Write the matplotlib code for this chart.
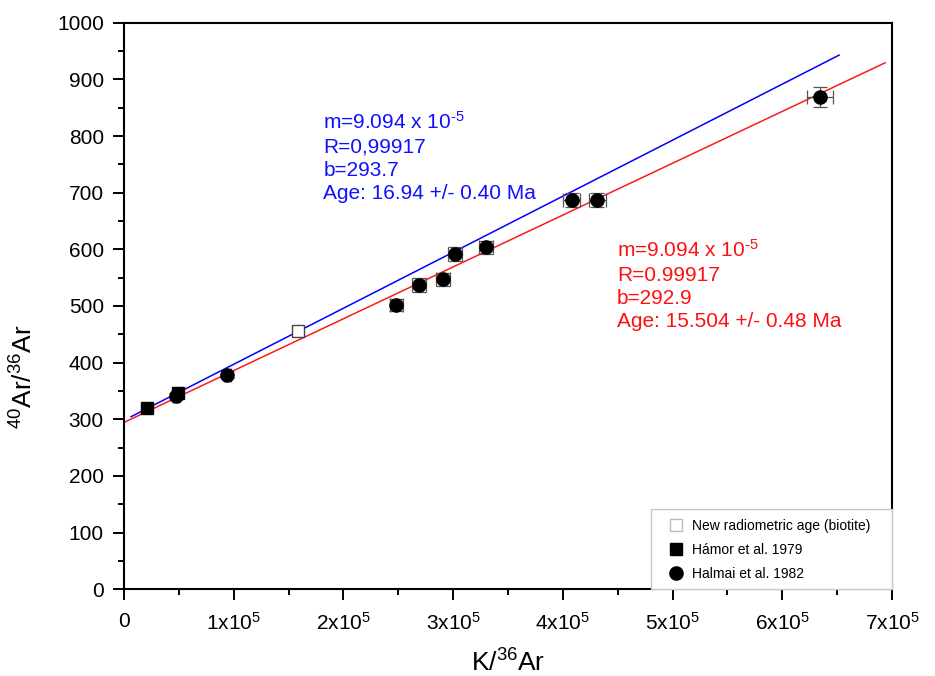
import matplotlib
matplotlib.use('Agg')
import matplotlib.pyplot as plt
from matplotlib.ticker import MultipleLocator, FixedLocator, FixedFormatter
from matplotlib.lines import Line2D
from matplotlib.patches import Rectangle

plt.rcParams['font.family'] = ['Liberation Sans', 'DejaVu Sans']
plt.rcParams['mathtext.fontset'] = 'custom'
plt.rcParams['mathtext.rm'] = 'Liberation Sans'
plt.rcParams['mathtext.it'] = 'Liberation Sans:italic'
plt.rcParams['mathtext.bf'] = 'Liberation Sans:bold'

# ---------------- data ----------------
new_x = [158.3e3]
new_y = [456]

hamor_x = [20.7e3, 49.0e3]
hamor_y = [320, 346]

halmai_x = [47.4e3, 94.2e3, 248e3, 269e3, 291e3, 302e3, 330e3, 408e3, 431.5e3, 634.5e3]
halmai_y = [341, 379, 502, 537, 547, 592, 603.5, 687, 687, 869]
halmai_xerr = [3e3, 3e3, 6e3, 6.5e3, 6.5e3, 6.5e3, 6.5e3, 8e3, 8e3, 12e3]
halmai_yerr = [6, 6, 11, 12, 12, 12, 12, 12, 12, 17]

blue_line_x = [6.4e3, 651.8e3]
blue_line_y = [304.6, 942.8]
red_line_x = [0, 693.7e3]
red_line_y = [294.5, 929.2]

blue_text = [r'm=9.094 x 10$^{\text{-5}}$', 'R=0,99917', 'b=293.7', 'Age: 16.94 +/- 0.40 Ma']
red_text = [r'm=9.094 x 10$^{\text{-5}}$', 'R=0.99917', 'b=292.9', 'Age: 15.504 +/- 0.48 Ma']

x_ticks = [0, 1e5, 2e5, 3e5, 4e5, 5e5, 6e5, 7e5]
x_tick_labels = ['0', '1x10$^5$', '2x10$^5$', '3x10$^5$', '4x10$^5$',
                 '5x10$^5$', '6x10$^5$', '7x10$^5$']
y_ticks = [0, 100, 200, 300, 400, 500, 600, 700, 800, 900, 1000]
y_tick_labels = [str(v) for v in y_ticks]

legend_labels = ['New radiometric age (biotite)', 'Hámor et al. 1979', 'Halmai et al. 1982']

# ---------------- figure ----------------
W, H = 935, 676
fig = plt.figure(figsize=(W / 100, H / 100), dpi=100)
ax = fig.add_axes([124 / W, 1 - 589.3 / H, 768 / W, 566.6 / H])

ax.plot(blue_line_x, blue_line_y, color='#0000ff', lw=1.1, zorder=2)
ax.plot(red_line_x, red_line_y, color='#ff1a1a', lw=1.1, zorder=2)

ax.errorbar(halmai_x, halmai_y, xerr=halmai_xerr, yerr=halmai_yerr, fmt='none',
            ecolor='#555555', elinewidth=0.9, capsize=4.8, capthick=0.9, zorder=3)
ax.plot(hamor_x, hamor_y, 's', color='black', ms=9, zorder=4)
ax.plot(halmai_x, halmai_y, 'o', color='black', ms=9.5, zorder=5)
ax.plot(new_x, new_y, 's', mfc='white', mec='#444444', mew=1.0, ms=8.5, zorder=4)

for i, t in enumerate(blue_text):
    ax.text(181.7e3, [813.6, 771.3, 730, 688.8][i], t, color='#1010ff',
            fontsize=15, va='baseline', ha='left')
for i, t in enumerate(red_text):
    ax.text(449.4e3, [587, 544.6, 503.5, 462.4][i], t, color='#ff1010',
            fontsize=15, va='baseline', ha='left')

ax.set_xlim(0, 7e5)
ax.set_ylim(0, 1000)
ax.xaxis.set_major_locator(FixedLocator(x_ticks))
ax.xaxis.set_major_formatter(FixedFormatter(x_tick_labels))
ax.xaxis.set_minor_locator(MultipleLocator(0.5e5))
ax.yaxis.set_major_locator(FixedLocator(y_ticks))
ax.yaxis.set_major_formatter(FixedFormatter(y_tick_labels))
ax.yaxis.set_minor_locator(MultipleLocator(50))

ax.tick_params(which='major', direction='out', length=8, width=1.4, labelsize=15)
ax.tick_params(axis='x', which='major', pad=8)
ax.tick_params(axis='y', which='major', pad=6.5)
ax.tick_params(which='minor', direction='out', length=4.5, width=1.4)
ax.tick_params(top=False, right=False, which='both')
for s in ax.spines.values():
    s.set_linewidth(1.5)

ax.set_xlabel('K/$^{36}$Ar', fontsize=19)
ax.set_ylabel('$^{40}$Ar/$^{36}$Ar', fontsize=19)
ax.xaxis.set_label_coords(0.5, -0.106)
ax.yaxis.set_label_coords(-0.113, 0.375)

# legend frame (light grey box in the lower right corner)
fig.patches.append(Rectangle((651 / W, 1 - 589 / H), (892 - 651) / W, (589 - 509) / H,
                             transform=fig.transFigure, fill=True, facecolor='white',
                             edgecolor='#c8c8c8', lw=1.0, zorder=6))
handles = [
    Line2D([], [], ls='none', marker='s', mfc='white', mec='#bbbbbb', ms=9),
    Line2D([], [], ls='none', marker='s', mfc='black', mec='black', ms=9),
    Line2D([], [], ls='none', marker='o', mfc='black', mec='black', ms=9.5),
]
leg = fig.legend(handles, legend_labels, loc='lower right',
                 bbox_to_anchor=(870 / W, 1 - 581 / H), bbox_transform=fig.transFigure,
                 fontsize=10, frameon=False, borderpad=0, borderaxespad=0,
                 labelspacing=0.72, handlelength=2.1, handletextpad=0.1)
leg.set_zorder(7)

fig.savefig('out.png', dpi=100)
